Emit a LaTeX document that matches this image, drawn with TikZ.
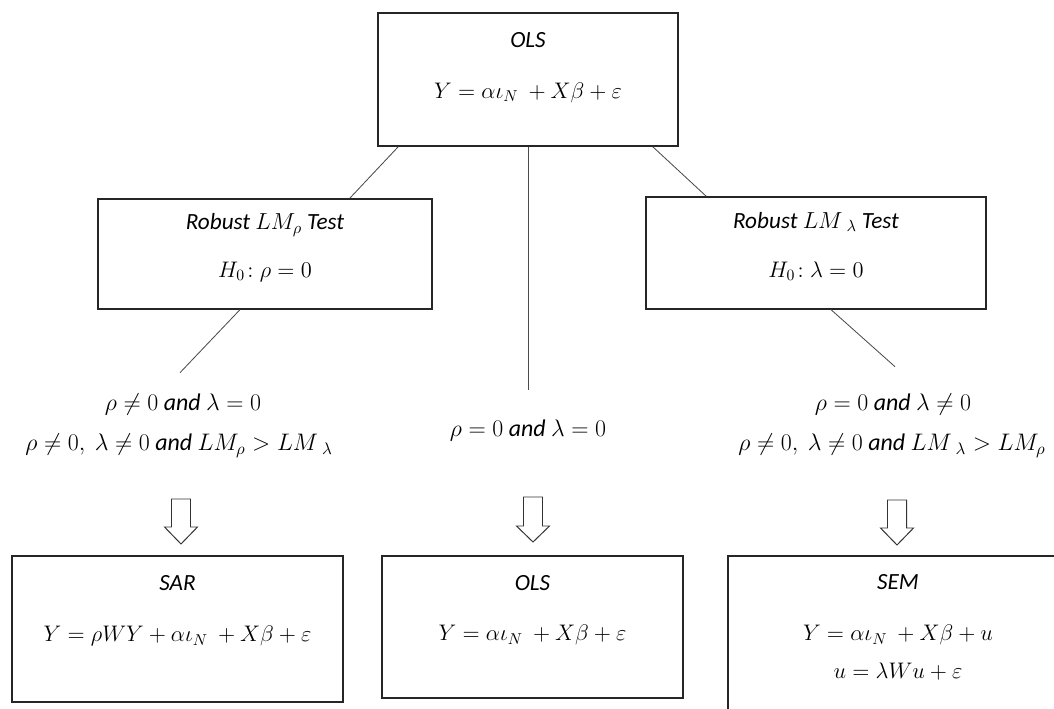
\RequirePackage{fix-cm}
\documentclass[tikz,border=0pt]{standalone}
\usepackage[no-math]{fontspec}
\setmainfont{Carlito}
\usetikzlibrary{calc}
\begin{document}
\begin{tikzpicture}
[x=0.025cm, y=-0.025cm,
 model/.style={draw=black!85, line width=0.9pt, inner sep=0pt},
 txt/.style={font=\fontsize{16.5}{19}\selectfont\itshape, inner sep=1pt},
 eq/.style={font=\fontsize{16}{19}\selectfont\itshape, inner sep=1pt},
 cond/.style={font=\fontsize{17}{20}\selectfont\itshape, inner sep=1pt},
 link/.style={draw=black!70, line width=0.6pt},
 hollow/.style={draw=black!80, line width=0.7pt, fill=white},
]
\useasboundingbox (0,0) rectangle (1054,709);
\clip (0,0) rectangle (1054,709);

%OLS (top)
\node[model, minimum width=7.5cm, minimum height=3.325cm] (ols) at (528,79.5) {};
\node[txt] (olsName) at (528,40) {OLS};
\node[eq] (olsEq) at (528,93) {$Y = \alpha\iota_N\ + X\beta + \varepsilon$};

%Robust LM_rho
\node[model, minimum width=8.35cm, minimum height=2.75cm] (lmRho) at (265,254) {};
\node[txt] (lmRhoName) at (265,225) {Robust $LM_{\rho}$ Test};
\node[eq] (lmRhoEq) at (265,272) {$H_0\!:\rho = 0$};

%Robust LM_lambda
\node[model, minimum width=8.5cm, minimum height=2.8cm] (lmLam) at (816,253) {};
\node[txt] (lmLamName) at (816,222) {Robust $LM\,_{\lambda}$ Test};
\node[eq] (lmLamEq) at (816,271) {$H_0\!:\lambda = 0$};

%conditions
\node[cond] (condL1) at (183,405) {$\rho \neq 0$ and\ $\lambda = 0$};
\node[cond] (condL2) at (179,446) {$\rho \neq 0,\ \lambda \neq 0$ and $LM_{\rho} > LM\,_{\lambda}$};
\node[cond] (condM) at (528,431) {$\rho = 0$ and\ $\lambda = 0$};
\node[cond] (condR1) at (893,405) {$\rho = 0$ and\ $\lambda \neq 0$};
\node[cond] (condR2) at (892,446) {$\rho \neq 0,\ \lambda \neq 0$ and $LM\,_{\lambda} > LM_{\rho}$};

%links
\draw[link] ($(ols.south west)+(21,0)$) -- ($(lmRho.north east)+(-83,0)$);
\draw[link] (ols.south) -- ($(condM.north)+(0,-29)$);
\draw[link] ($(ols.south east)+(-26,0)$) -- ($(lmLam.north west)+(61,0)$);
\draw[link] ($(lmRho.south)+(-25,0)$) -- ($(condL1.north)+(-3,-20)$);
\draw[link] ($(lmLam.south)+(15,0)$) -- ($(condR1.north)+(2,-26)$);

%hollow arrows
\draw[hollow] (181-9.5,499) -- (181+9.5,499) -- (181+9.5,527) -- (181+16.5,527) -- (181,544) -- (181-16.5,527) -- (181-9.5,527) -- cycle;
\draw[hollow] (533-9.5,497) -- (533+9.5,497) -- (533+9.5,526) -- (533+16.5,526) -- (533,542) -- (533-16.5,526) -- (533-9.5,526) -- cycle;
\draw[hollow] (897-9.5,500) -- (897+9.5,500) -- (897+9.5,528) -- (897+16.5,528) -- (897,545) -- (897-16.5,528) -- (897-9.5,528) -- cycle;

%SAR
\node[model, minimum width=8.275cm, minimum height=3.65cm] (sar) at (177.5,629) {};
\node[txt] (sarName) at (177.5,583) {SAR};
\node[eq] (sarEq) at (177.5,636) {$Y = \rho WY + \alpha\iota_N\ + X\beta + \varepsilon$};

%OLS (bottom)
\node[model, minimum width=7.525cm, minimum height=3.55cm] (olsB) at (532.5,627) {};
\node[txt] (olsBName) at (532.5,583) {OLS};
\node[eq] (olsBEq) at (532.5,635) {$Y = \alpha\iota_N\ + X\beta + \varepsilon$};

%SEM
\node[model, minimum width=8.5cm, minimum height=4.1cm] (sem) at (898,638) {};
\node[txt] (semName) at (898,582) {SEM};
\node[eq] (semEq) at (898,635) {$Y = \alpha\iota_N\ + X\beta + u$};
\node[eq] (semEq2) at (898,672) {$u = \lambda Wu + \varepsilon$};

\end{tikzpicture}
\end{document}
